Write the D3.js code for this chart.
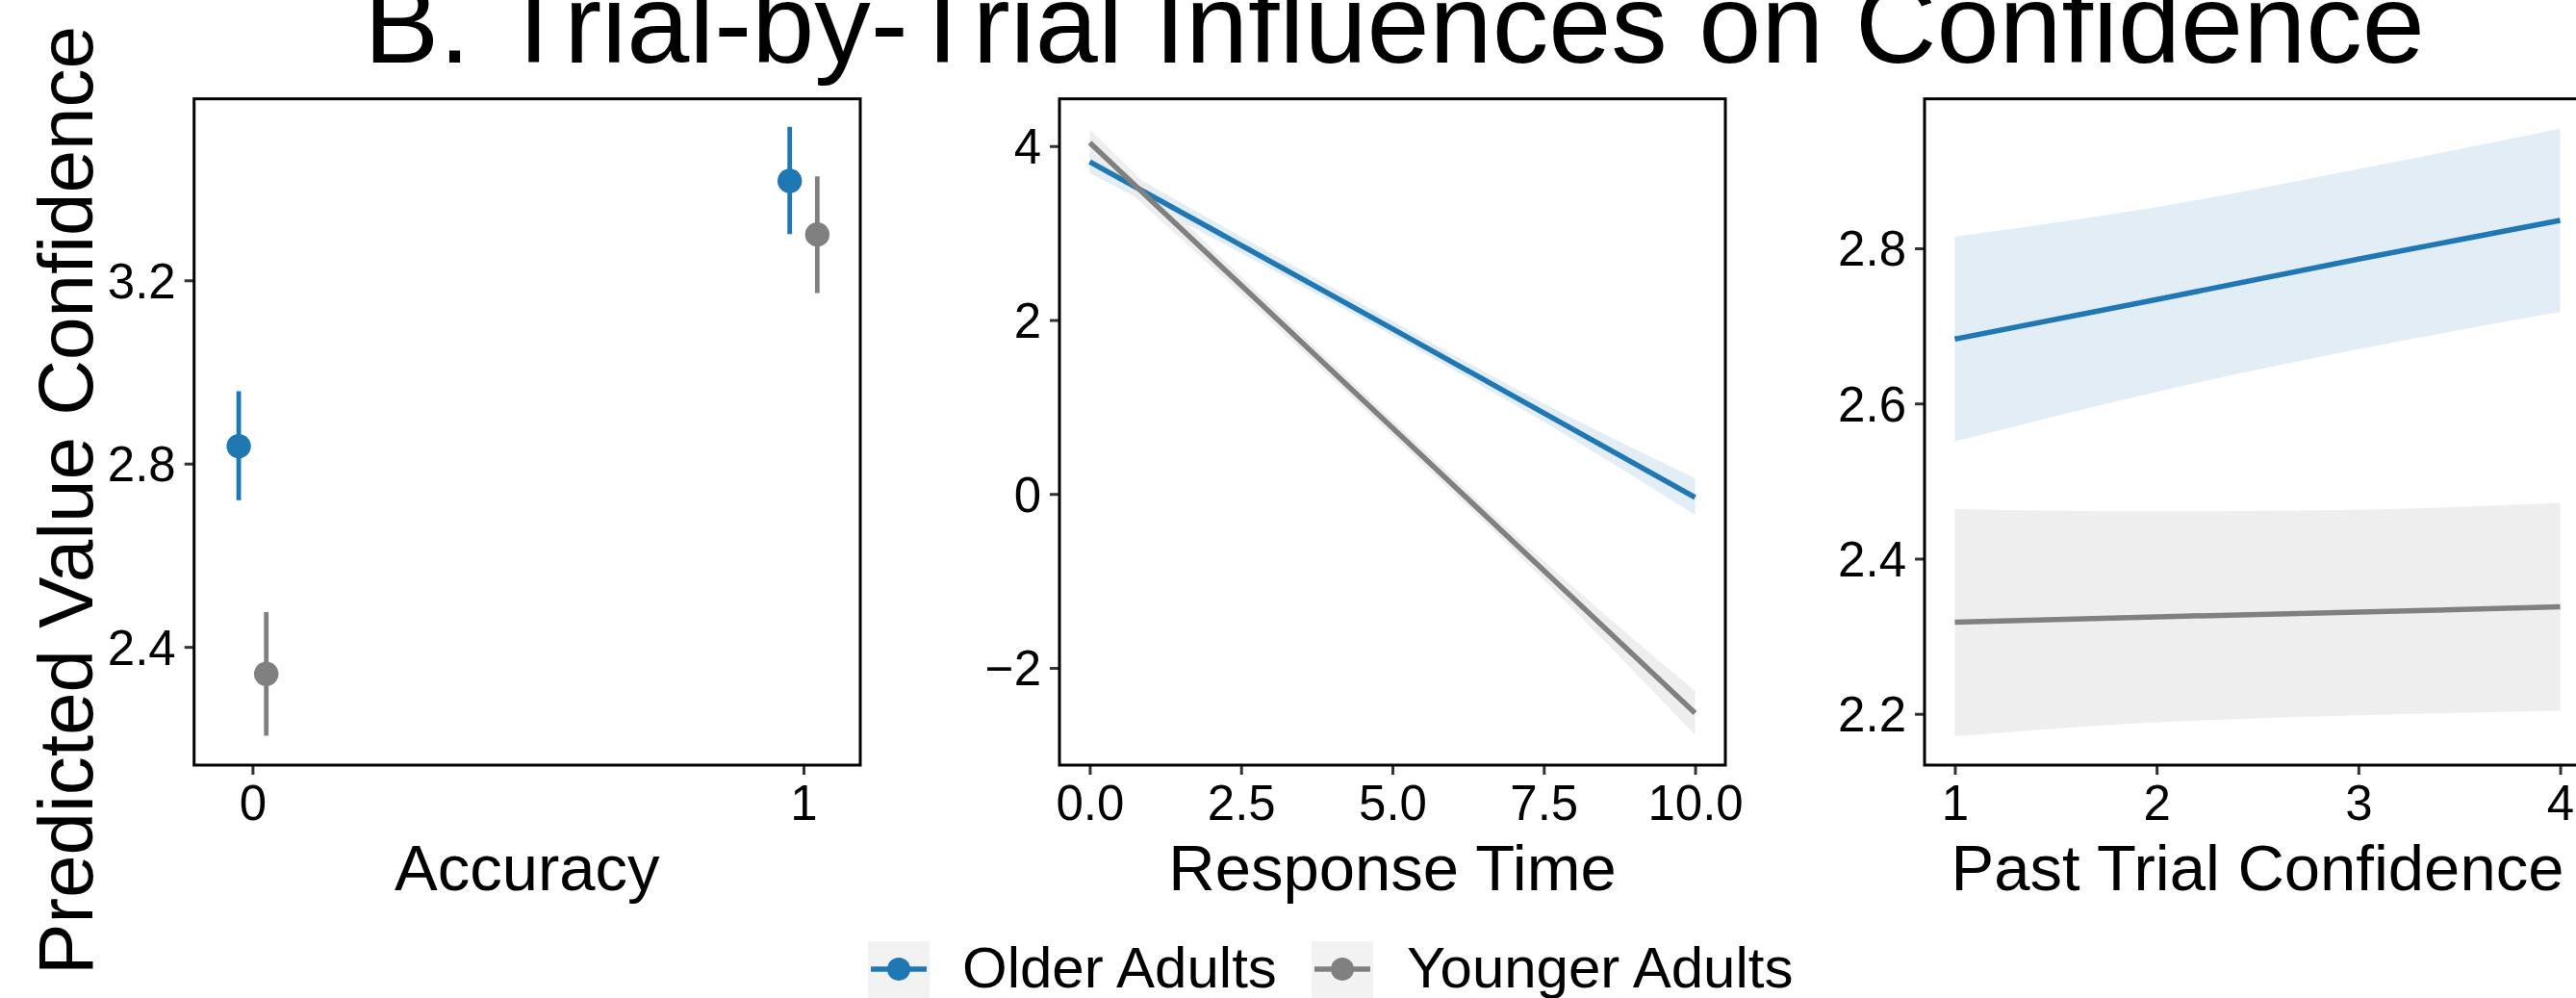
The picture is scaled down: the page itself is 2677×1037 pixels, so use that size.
<!DOCTYPE html>
<html><head><meta charset="utf-8">
<script src="https://cdn.jsdelivr.net/npm/d3@7"></script>
<style>
html,body{margin:0;padding:0;background:#fff;overflow:hidden}
svg{display:block;font-family:"Liberation Sans",Arial,Helvetica,sans-serif}
</style></head>
<body>
<svg id="chart" width="2677" height="1037"></svg>
<script>
// ---------------- DATA ----------------
const titleText = "B. Trial-by-Trial Influences on Confidence";
const yAxisTitle = "Predicted Value Confidence";
const groups = ["Older Adults", "Younger Adults"];
const groupColors = ["#1F77B4", "#808080"];
const ribbonColors = ["#DEEAF4", "#EBEBEB"];

// Panel 1: Accuracy (point estimates with CIs)
const accuracyLevels = [0, 1];
const accOlderEst = [2.838, 3.417];
const accOlderLo  = [2.720, 3.301];
const accOlderHi  = [2.958, 3.535];
const accYoungerEst = [2.341, 3.300];
const accYoungerLo  = [2.206, 3.172];
const accYoungerHi  = [2.476, 3.427];
const accTicksY = [2.4, 2.8, 3.2];
const accTicksX = [0, 1];

// Panel 2: Response Time
const rtX = [0, 2.5, 5, 7.5, 10];
const rtOlderFit = [3.82, 2.86, 1.90, 0.93, -0.04];
const rtOlderLo  = [3.69, 2.77, 1.82, 0.83, -0.24];
const rtOlderHi  = [3.94, 2.96, 1.99, 1.04, 0.18];
const rtYoungerFit = [4.04, 2.40, 0.76, -0.88, -2.52];
const rtYoungerLo  = [3.88, 2.30, 0.67, -0.99, -2.77];
const rtYoungerHi  = [4.19, 2.50, 0.85, -0.77, -2.27];
const rtTicksY = [-2, 0, 2, 4];
const rtTicksX = [0, 2.5, 5, 7.5, 10];

// Panel 3: Past Trial Confidence
const ptX = [1, 2, 3, 4];
const ptOlderFit = [2.683, 2.734, 2.786, 2.836];
const ptOlderLo  = [2.551, 2.615, 2.670, 2.718];
const ptOlderHi  = [2.815, 2.853, 2.902, 2.954];
const ptYoungerFit = [2.318, 2.325, 2.331, 2.338];
const ptYoungerLo  = [2.171, 2.189, 2.198, 2.204];
const ptYoungerHi  = [2.464, 2.461, 2.463, 2.472];
const ptTicksY = [2.2, 2.4, 2.6, 2.8];
const ptTicksX = [1, 2, 3, 4];

// ---------------- LAYOUT ----------------
const svg = d3.select("#chart");
const plotTop = 102.7, plotBottom = 795;
const panels = [
  {x0: 201.7, x1: 894,  xDom: [-0.106, 1.103], yDom: [2.142, 3.596], xTicks: accTicksX, yTicks: accTicksY,
   xFmt: d3.format("d"), yFmt: d3.format(".1f"), xTitle: "Accuracy"},
  {x0: 1101, x1: 1793, xDom: [-0.5, 10.5], yDom: [-3.118, 4.543], xTicks: rtTicksX, yTicks: rtTicksY,
   xFmt: d3.format(".1f"), yFmt: d => (d < 0 ? "\u2212" + Math.abs(d) : String(d)), xTitle: "Response Time"},
  {x0: 2000, x1: 2692, xDom: [0.85, 4.15], yDom: [2.1339, 2.9926], xTicks: ptTicksX, yTicks: ptTicksY,
   xFmt: d3.format("d"), yFmt: d3.format(".1f"), xTitle: "Past Trial Confidence"}
];
panels.forEach(p => {
  p.x = d3.scaleLinear().domain(p.xDom).range([p.x0, p.x1]);
  p.y = d3.scaleLinear().domain(p.yDom).range([plotBottom, plotTop]);
});

const tickFont = 51, titleFont = 67;

// Title (clipped at the top edge as in the reference)
svg.append("text").attr("x", 1449).attr("y", 65).attr("text-anchor", "middle")
  .attr("font-size", 117).attr("fill", "#000").text(titleText);

// Y axis title (figure-level, centred on full height)
svg.append("text").attr("transform", `translate(96,520) rotate(-90)`)
  .attr("text-anchor", "middle").attr("font-size", 80).attr("fill", "#000").text(yAxisTitle);

function drawAxes(p) {
  const g = svg.append("g");
  const xa = d3.axisBottom(p.x).tickValues(p.xTicks).tickFormat(p.xFmt).tickSize(10).tickPadding(10);
  const ya = d3.axisLeft(p.y).tickValues(p.yTicks).tickFormat(p.yFmt).tickSize(10).tickPadding(9);
  const gx = g.append("g").attr("transform", `translate(0,${plotBottom})`).call(xa);
  const gy = g.append("g").attr("transform", `translate(${p.x0},0)`).call(ya);
  [gx, gy].forEach(a => {
    a.select(".domain").remove();
    a.selectAll(".tick line").attr("stroke", "#333333").attr("stroke-width", 3);
    a.selectAll(".tick text").attr("font-size", tickFont).attr("fill", "#000")
      .attr("font-family", "'Liberation Sans',Arial,Helvetica,sans-serif");
  });
  gx.selectAll(".tick text").attr("dy", "0.72em");
  gy.selectAll(".tick text").attr("dy", "0.35em");
  svg.append("text").attr("x", (p.x0 + p.x1) / 2).attr("y", 925).attr("text-anchor", "middle")
    .attr("font-size", titleFont).attr("fill", "#000").text(p.xTitle);
}

function drawBorder(p) {
  svg.append("rect").attr("x", p.x0).attr("y", plotTop).attr("width", p.x1 - p.x0).attr("height", plotBottom - plotTop)
    .attr("fill", "none").attr("stroke", "#000").attr("stroke-width", 3);
}

panels.forEach((p, i) => {
  svg.append("clipPath").attr("id", "clip" + i).append("rect")
    .attr("x", p.x0).attr("y", plotTop).attr("width", p.x1 - p.x0).attr("height", plotBottom - plotTop);
});

// Panel 1
(function () {
  const p = panels[0];
  const g = svg.append("g").attr("clip-path", "url(#clip0)");
  const dodge = [-0.025, 0.025];
  const series = [
    {est: accOlderEst, lo: accOlderLo, hi: accOlderHi},
    {est: accYoungerEst, lo: accYoungerLo, hi: accYoungerHi}
  ];
  series.forEach((s, gi) => {
    accuracyLevels.forEach((lv, i) => {
      const cx = p.x(lv + dodge[gi]);
      g.append("line").attr("x1", cx).attr("x2", cx).attr("y1", p.y(s.lo[i])).attr("y2", p.y(s.hi[i]))
        .attr("stroke", groupColors[gi]).attr("stroke-width", 4.8);
      g.append("circle").attr("cx", cx).attr("cy", p.y(s.est[i])).attr("r", 12.7).attr("fill", groupColors[gi]);
    });
  });
  drawAxes(p); drawBorder(p);
})();

function drawRibbonPanel(p, idx, xs, fits, los, his) {
  const g = svg.append("g").attr("clip-path", `url(#clip${idx})`);
  const area = d3.area().x(d => p.x(d.x)).y0(d => p.y(d.lo)).y1(d => p.y(d.hi)).curve(d3.curveMonotoneX);
  const line = d3.line().x(d => p.x(d.x)).y(d => p.y(d.f));
  [0, 1].forEach(gi => {
    const data = xs.map((x, i) => ({x, lo: los[gi][i], hi: his[gi][i], f: fits[gi][i]}));
    g.append("path").datum(data).attr("d", area).attr("fill", ribbonColors[gi]).attr("fill-opacity", 0.85);
  });
  [0, 1].forEach(gi => {
    const data = xs.map((x, i) => ({x, lo: los[gi][i], hi: his[gi][i], f: fits[gi][i]}));
    g.append("path").datum(data).attr("d", line).attr("fill", "none")
      .attr("stroke", groupColors[gi]).attr("stroke-width", 5.5);
  });
  drawAxes(p); drawBorder(p);
}
drawRibbonPanel(panels[1], 1, rtX, [rtOlderFit, rtYoungerFit], [rtOlderLo, rtYoungerLo], [rtOlderHi, rtYoungerHi]);
drawRibbonPanel(panels[2], 2, ptX, [ptOlderFit, ptYoungerFit], [ptOlderLo, ptYoungerLo], [ptOlderHi, ptYoungerHi]);

// Legend
const legend = svg.append("g");
const legendItems = [{kx: 902, tx: 1000}, {kx: 1363, tx: 1462}];
groups.forEach((name, gi) => {
  const it = legendItems[gi];
  const kg = legend.append("g");
  kg.append("rect").attr("x", it.kx).attr("y", 978).attr("width", 64).attr("height", 64).attr("fill", "#F2F2F2");
  kg.append("line").attr("x1", it.kx + 3).attr("x2", it.kx + 61).attr("y1", 1007).attr("y2", 1007)
    .attr("stroke", groupColors[gi]).attr("stroke-width", 5.5);
  kg.append("circle").attr("cx", it.kx + 32).attr("cy", 1007).attr("r", 12).attr("fill", groupColors[gi]);
  legend.append("text").attr("x", it.tx).attr("y", 1026).attr("font-size", 60).attr("fill", "#000").text(name);
});
</script>
</body></html>
